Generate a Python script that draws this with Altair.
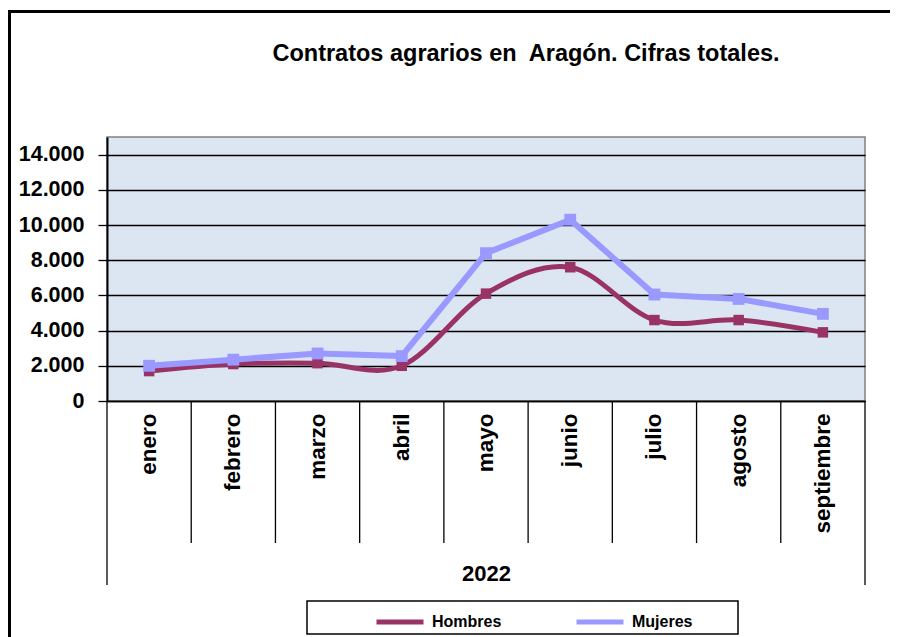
import altair as alt
import pandas as pd

# ---- data ----
meses = ["enero", "febrero", "marzo", "abril", "mayo", "junio", "julio", "agosto", "septiembre"]
hombres = [1700, 2100, 2150, 2000, 6100, 7600, 4600, 4600, 3900]
mujeres = [2000, 2350, 2700, 2550, 8400, 10300, 6050, 5800, 4950]
series = ["Hombres", "Mujeres"]
colores = ["#993366", "#9999FF"]
y_ticks = [0, 2000, 4000, 6000, 8000, 10000, 12000, 14000]
anio = "2022"
titulo = "Contratos agrarios en\u00a0 Aragón. Cifras totales."

rows = []
for m, h, w in zip(meses, hombres, mujeres):
    rows.append({"mes": m, "serie": "Hombres", "valor": h})
    rows.append({"mes": m, "serie": "Mujeres", "valor": w})
df = pd.DataFrame(rows)
df_div = pd.DataFrame({"mes": meses[1:]})
one = pd.DataFrame({"k": [0]})

W, H = 758, 264
FONT = "Liberation Sans"

x_axis = alt.Axis(
    title=anio, labelAngle=270, ticks=False, domainColor="black", domainWidth=1.5,
    labelFont=FONT, labelFontSize=22.5, labelFontWeight="bold", labelColor="black",
    labelPadding=12, titleFont=FONT, titleFontSize=22, titleFontWeight="bold",
    titleColor="black", titleY=172, titleBaseline="middle",
)
x_scale = alt.Scale(type="band", paddingInner=0, paddingOuter=0, domain=meses)
y_axis = alt.Axis(
    values=y_ticks, labelExpr="replace(format(datum.value, ',d'), ',', '.')",
    grid=True, gridColor="black", gridWidth=1.3, tickColor="black", tickSize=9,
    tickWidth=1.3, domainColor="black", domainWidth=2, labelFont=FONT,
    labelFontSize=21.5, labelFontWeight="bold", labelColor="black", labelPadding=14,
    title=None,
)
y_scale = alt.Scale(domain=[0, 15000], nice=False)

legend = alt.Legend(
    orient="none", legendX=267, legendY=459, direction="horizontal", title=None,
    symbolType="stroke", symbolStrokeWidth=5, symbolSize=2209, labelFont=FONT,
    labelFontSize=16, labelFontWeight="bold", labelColor="black", labelOffset=6,
    columnPadding=64, padding=0,
)
color = alt.Color("serie:N", scale=alt.Scale(domain=series, range=colores), legend=legend)

X = alt.X("mes:N", sort=meses, scale=x_scale, bandPosition=0.5, axis=x_axis)
Y = alt.Y("valor:Q", scale=y_scale, axis=y_axis)

border = alt.Chart(one).mark_rect(fillOpacity=0, stroke="black", strokeWidth=3).encode(
    x=alt.value(-97.5), x2=alt.value(820), y=alt.value(-125.5), y2=alt.value(560)
)
title_txt = alt.Chart(one).mark_text(
    font=FONT, fontSize=23.5, fontWeight="bold", color="black", align="center",
    baseline="middle"
).encode(x=alt.value(419), y=alt.value(-83), text=alt.value(titulo))
legend_box = alt.Chart(one).mark_rect(fill="white", stroke="black", strokeWidth=1.5).encode(
    x=alt.value(200), x2=alt.value(631), y=alt.value(464), y2=alt.value(497)
)
dividers = alt.Chart(df_div).mark_rule(color="black", strokeWidth=1.3).encode(
    x=alt.X("mes:N", sort=meses, scale=x_scale, bandPosition=0, axis=x_axis),
    y=alt.value(H), y2=alt.value(406),
)
outer_l = alt.Chart(one).mark_rule(color="black", strokeWidth=1.3).encode(
    x=alt.value(0), y=alt.value(H), y2=alt.value(448)
)
outer_r = alt.Chart(one).mark_rule(color="black", strokeWidth=1.3).encode(
    x=alt.value(W), y=alt.value(H), y2=alt.value(448)
)

base = alt.Chart(df)
line_h = base.transform_filter(alt.datum.serie == "Hombres").mark_line(
    interpolate="cardinal", strokeWidth=5, strokeJoin="round"
).encode(x=X, y=Y, color=color)
pts_h = base.transform_filter(alt.datum.serie == "Hombres").mark_square(
    size=110, opacity=1
).encode(x=X, y=Y, color=color)
line_m = base.transform_filter(alt.datum.serie == "Mujeres").mark_line(
    strokeWidth=6, strokeJoin="round"
).encode(x=X, y=Y, color=color)
pts_m = base.transform_filter(alt.datum.serie == "Mujeres").mark_square(
    size=140, opacity=1
).encode(x=X, y=Y, color=color)

chart = alt.layer(
    border, title_txt, legend_box, dividers, outer_l, outer_r,
    line_h, pts_h, line_m, pts_m
).properties(
    width=W, height=H,
    autosize=alt.AutoSizeParams(type="none"),
    padding={"left": 99, "top": 129, "right": 25, "bottom": 236},
    background="white",
).configure_view(fill="#DCE6F2", stroke="#808080", strokeWidth=1.5)

chart.save("out.html", embed_options={"renderer": "svg", "actions": False})
